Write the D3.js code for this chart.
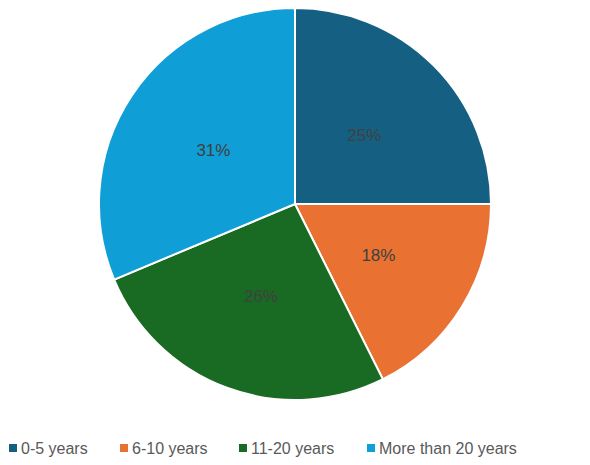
<!DOCTYPE html>
<html lang="en">
<head>
    <meta charset="UTF-8">
    <title>Years Pie</title>
    <script src="https://d3js.org/d3.v7.min.js"></script>
    <style>
        body {
            margin: 0;
            padding: 0;
            background: #fff;
            font-family: "Liberation Sans", Arial, sans-serif;
        }
    </style>
</head>
<body>
    <div id="chart"></div>
    <script>
        // Chart data (shares; labels are rounded)
        const categories = ['0-5 years', '6-10 years', '11-20 years', 'More than 20 years'];
        const shares = [25.0, 17.6, 26.1, 31.3];
        const colors = ['#156082', '#E97132', '#196B24', '#0F9ED5'];

        const width = 590;
        const height = 465;
        const cx = 295;
        const cy = 204;
        const radius = 196;

        const svg = d3.select('#chart')
            .append('svg')
            .attr('width', width)
            .attr('height', height);

        const g = svg.append('g')
            .attr('transform', `translate(${cx},${cy})`);

        const color = d3.scaleOrdinal().domain(categories).range(colors);
        const total = d3.sum(shares);

        const pie = d3.pie()
            .sort(null)
            .value(d => d.value);

        const arc = d3.arc()
            .innerRadius(0)
            .outerRadius(radius);

        const data = categories.map((c, i) => ({ name: c, value: shares[i] }));

        const arcs = g.selectAll('.arc')
            .data(pie(data))
            .enter()
            .append('g')
            .attr('class', 'arc');

        arcs.append('path')
            .attr('d', arc)
            .attr('fill', d => color(d.data.name))
            .attr('stroke', '#fff')
            .attr('stroke-width', 2);

        arcs.append('text')
            .attr('transform', d => {
                const [x, y] = arc.centroid(d);
                return `translate(${x},${y})`;
            })
            .attr('text-anchor', 'middle')
            .attr('dy', '0.35em')
            .attr('font-size', 17)
            .attr('fill', '#404040')
            .text(d => `${Math.round(d.data.value / total * 100)}%`);

        // Legend
        const legendX = [9, 120, 239, 367];
        const legend = svg.append('g')
            .attr('transform', 'translate(0,448)');

        const items = legend.selectAll('.item')
            .data(categories)
            .enter()
            .append('g')
            .attr('class', 'item')
            .attr('transform', (d, i) => `translate(${legendX[i]},0)`);

        items.append('rect')
            .attr('x', 0)
            .attr('y', -4)
            .attr('width', 8)
            .attr('height', 8)
            .attr('fill', d => color(d));

        items.append('text')
            .attr('x', 12)
            .attr('dy', '0.35em')
            .attr('font-size', 16)
            .attr('fill', '#595959')
            .text(d => d);
    </script>
</body>
</html>
